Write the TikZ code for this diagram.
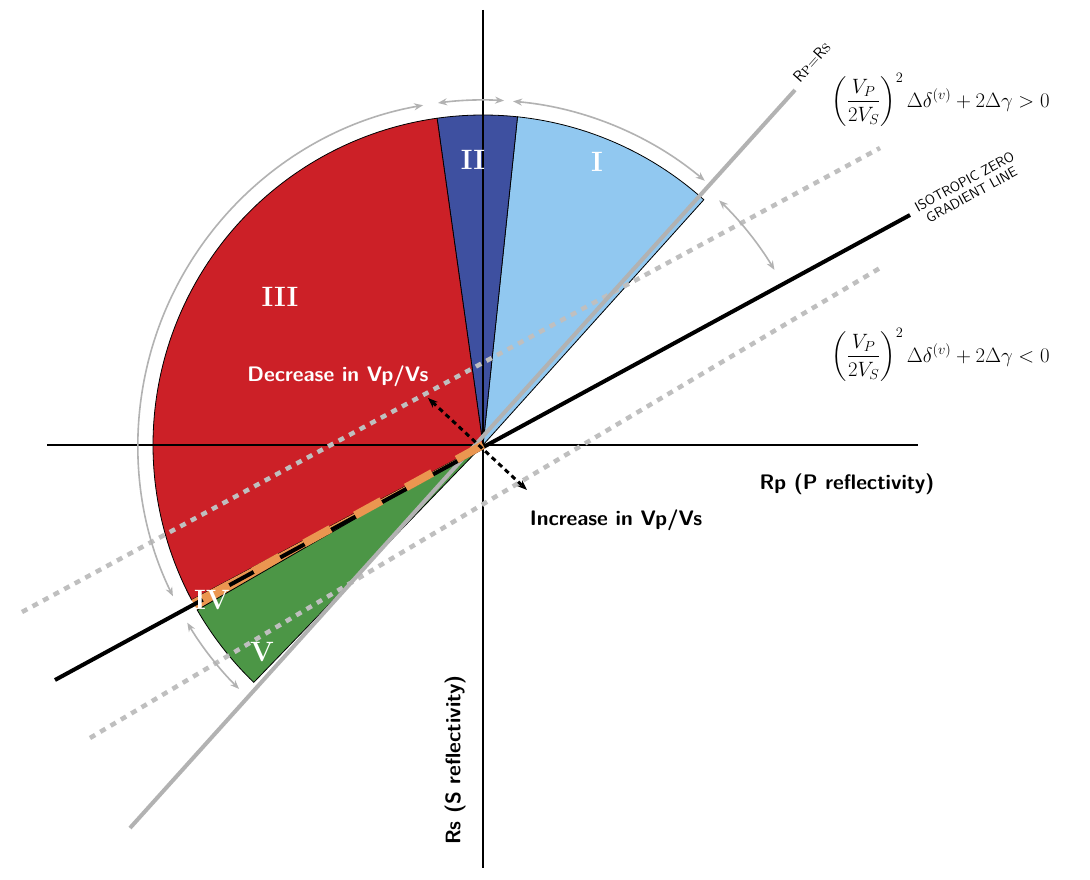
\documentclass[tikz,border=0pt]{standalone}
\usepackage{amsmath}
\usetikzlibrary{arrows.meta,calc}
\definecolor{regred}{RGB}{204,32,39}
\definecolor{regblue}{RGB}{62,80,160}
\definecolor{reglight}{RGB}{145,200,240}
\definecolor{reggreen}{RGB}{76,150,70}
\definecolor{regorange}{RGB}{235,150,80}
\begin{document}
\begin{tikzpicture}[x=1pt,y=1pt,
  sector/.style={draw=black, line width=0.8},
  span/.style={{Stealth[length=9,width=7]}-{Stealth[length=9,width=7]}, gray!60, line width=1.6},
  roman/.style={text=white, font=\fontsize{28}{28}\selectfont\bfseries},
  label/.style={font=\fontsize{21}{21}\selectfont\sffamily\bfseries},
  formula/.style={font=\fontsize{20}{20}\selectfont, anchor=west}
]
  \useasboundingbox[fill=white] (0,0) rectangle (1090,-880);
  \coordinate (O) at (483,-445);
  % sectors
  \fill[reglight, sector] (O) -- ++(48:330) arc[start angle=48, end angle=84, radius=330] -- cycle;
  \fill[regblue, sector] (O) -- ++(84:330) arc[start angle=84, end angle=98, radius=330] -- cycle;
  \fill[regred, sector] (O) -- ++(98:330) arc[start angle=98, end angle=208, radius=330] -- cycle;
  \fill[regorange] (O) -- ++(208:330) arc[start angle=208, end angle=210, radius=330] -- cycle;
  \fill[reggreen, sector] (O) -- ++(210:330) arc[start angle=210, end angle=226, radius=330] -- cycle;
  % axes
  \draw[line width=2.2] (483,-10) -- (483,-868);
  \draw[line width=2.2] (47,-445) -- (918,-445);
  % dotted lines
  \draw[gray!50, line width=4.5, dash pattern=on 6 off 6] (22,-612) -- (880,-148);
  \draw[gray!50, line width=4.5, dash pattern=on 6 off 6] (90,-738) -- (880,-268);
  % lines through origin
  \draw[gray!60, line width=4] (130,-828) -- (795,-90);
  \draw[line width=4] (55,-680) -- (910,-215);
  \draw[regorange, line width=8, dash pattern=on 30 off 28] (O) -- ++(208.8:330);
  % spans
  \draw[span] ($(O)+(85:345)$) arc[start angle=85, end angle=50, radius=345];
  \draw[span] ($(O)+(97.5:345)$) arc[start angle=97.5, end angle=86.5, radius=345];
  \draw[span] ($(O)+(100:345)$) arc[start angle=100, end angle=206, radius=345];
  \draw[span] ($(O)+(211:345)$) arc[start angle=211, end angle=225, radius=345];
  \draw[span] ($(O)+(46:340)$) arc[start angle=46, end angle=31, radius=340];
  % Vp/Vs arrow
  \coordinate (dec) at (428,-398);
  \coordinate (inc) at (527,-490);
  \draw[{Stealth[length=10]}-{Stealth[length=10]}, line width=3, dash pattern=on 5 off 4] (dec) -- (inc);
  % labels
  \node[roman] (r1) at (597,-162) {I};
  \node[roman] (r2) at (473,-160) {II};
  \node[roman] (r3) at (280,-297) {III};
  \node[roman] (r4) at (212,-600) {IV};
  \node[roman] (r5) at (262,-652) {V};
  \node[label, text=white] (decl) at (338,-376) {Decrease in Vp/Vs};
  \node[label] (incl) at (616,-520) {Increase in Vp/Vs};
  \node[label] (rp) at (847,-484) {Rp (P reflectivity)};
  \node[label, rotate=90] (rs) at (455,-760) {Rs (S reflectivity)};
  \node[font=\fontsize{16}{16}\selectfont\sffamily, rotate=48] (eq) at (812,-62) {R\textsc{p}=R\textsc{s}};
  \node[font=\fontsize{14}{15}\selectfont\sffamily, rotate=28.5, align=center] (iso) at (968,-188) {ISOTROPIC ZERO\\GRADIENT LINE};
  \node[formula] (fpos) at (828,-100) {$\left(\dfrac{V_P}{2V_S}\right)^{2}\Delta\delta^{(v)}+2\Delta\gamma>0$};
  \node[formula] (fneg) at (828,-355) {$\left(\dfrac{V_P}{2V_S}\right)^{2}\Delta\delta^{(v)}+2\Delta\gamma<0$};
\end{tikzpicture}
\end{document}
